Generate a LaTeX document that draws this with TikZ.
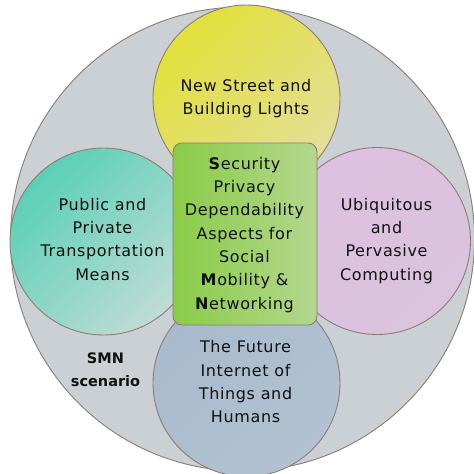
\documentclass[tikz,border=0pt]{standalone}
\usepackage{fontspec}
\setmainfont[LetterSpace=4]{DejaVu Sans}
\newfontfamily\scenfont{DejaVu Sans}
\definecolor{edge}{RGB}{140,125,115}
\definecolor{bigfill}{RGB}{203,208,212}
\definecolor{yel1}{RGB}{226,224,58}
\definecolor{yel2}{RGB}{228,222,152}
\definecolor{teal1}{RGB}{90,208,182}
\definecolor{teal2}{RGB}{192,220,214}
\definecolor{pink1}{RGB}{222,192,224}
\definecolor{pink2}{RGB}{218,196,222}
\definecolor{blu1}{RGB}{168,186,205}
\definecolor{blu2}{RGB}{178,194,210}
\definecolor{grn1}{RGB}{138,204,72}
\definecolor{grn2}{RGB}{180,215,142}
\definecolor{txt}{RGB}{17,17,17}
\begin{document}
\begin{tikzpicture}[x=1pt,y=-1pt,
  ring/.style={circle, draw=edge, line width=0.9pt, minimum size=187pt, inner sep=0pt},
  lbl/.style={align=center, font=\fontsize{16}{23.3}\selectfont, text=txt, inner sep=0pt},
  scen/.style={align=center, font=\scenfont\fontsize{14.5}{22.7}\selectfont\bfseries, text=txt, inner sep=0pt}
]
\useasboundingbox (0,0) rectangle (474,474);
\node[circle, draw=edge, line width=0.9pt, fill=bigfill, minimum size=464pt, inner sep=0pt] (big) at (242.5,239) {};
\node[ring, left color=yel1, right color=yel2, shading angle=45] (top) at (246.5,98.5) {};
\node[ring, left color=teal1, right color=teal2, shading angle=45] (left) at (103.5,241.5) {};
\node[ring, left color=pink1, right color=pink2, shading angle=45] (right) at (377,241) {};
\node[ring, left color=blu1, right color=blu2, shading angle=45] (bottom) at (246.5,383) {};
\node[draw=edge, line width=0.9pt, rounded corners=9pt, minimum width=144pt, minimum height=182pt, inner sep=0pt, left color=grn1, right color=grn2] (core) at (245,234) {};
\node[lbl] (toptext) at (246,98) {\strut New Street and\\\strut Building Lights};
\node[lbl] (lefttext) at (102.5,240.6) {\strut Public and\\\strut Private\\\strut Transportation\\\strut Means};
\node[lbl] (righttext) at (386.5,240.6) {\strut Ubiquitous\\\strut and\\\strut Pervasive\\\strut Computing};
\node[lbl] (bottomtext) at (245.5,383) {\strut The Future\\\strut Internet of\\\strut Things and\\\strut Humans};
\node[lbl] (coretext) at (244.5,234.5) {\strut\textbf{S}ecurity\\\strut Privacy\\\strut Dependability\\\strut Aspects for\\\strut Social\\\strut\textbf{M}obility \&\\\strut\textbf{N}etworking};
\node[scen] (smn) at (105.5,370.8) {\strut SMN\\\strut scenario};
\end{tikzpicture}
\end{document}
